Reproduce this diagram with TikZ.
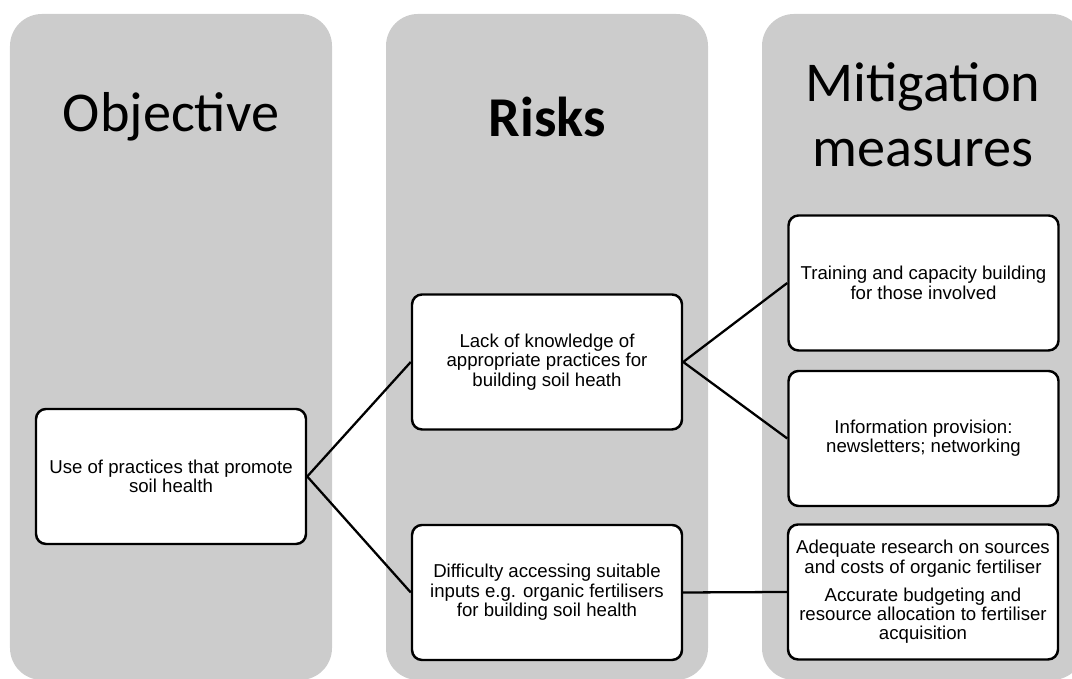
\documentclass[tikz,border=0pt]{standalone}
\usepackage{fontspec}
\setmainfont{Liberation Sans}
\newfontfamily\hdrfont{Carlito}
\usepackage{tikz}
\usetikzlibrary{positioning}
\usepackage{xcolor}
\definecolor{colgray}{RGB}{204,204,204}

\begin{document}
\begin{tikzpicture}[
  col/.style={fill=colgray, rounded corners=0.64cm},
  hdr/.style={font=\hdrfont\fontsize{32}{37}\selectfont, align=center},
  box/.style={rectangle, rounded corners=0.2cm, draw=black, line width=1.4pt,
              fill=white, minimum width=5.4cm, minimum height=2.7cm,
              align=center, font=\fontsize{10.6}{11}\selectfont},
  link/.style={line width=1.3pt}
]
\useasboundingbox (0,0) rectangle (21.44,13.58);
\clip (0,0) rectangle (21.44,13.58);

% columns
\fill[col] (0.2,-0.02)   rectangle (6.64,13.3);
\fill[col] (7.72,-0.02)  rectangle (14.16,13.3);
\fill[col] (15.24,-0.02) rectangle (21.68,13.3);

\node[hdr] (hobj) at (3.42, 11.25)  {Objective};
\node[hdr] (hrsk) at (10.94, 11.25) {\bfseries Risks};
\node[hdr] (hmit) at (18.46, 11.28) {Mitigation\\measures};

\node[box] (obj) at (3.42, 4.05)  {Use of practices that promote\\ soil health};

\node[box] (rk1) at (10.94, 6.34) {Lack of knowledge of\\ appropriate practices for\\ building soil heath};
\node[box] (rk2) at (10.94, 1.73) {Difficulty accessing suitable\\ inputs e.g. organic fertilisers\\ for building soil health};

\node[box] (mt1) at (18.47, 7.92) {Training and capacity building\\ for those involved};
\node[box] (mt2) at (18.47, 4.81) {Information provision:\\ newsletters; networking};
\node[box] (mt3) at (18.46, 1.74) {Adequate research on sources\\ and costs of organic fertiliser\\[5pt]
  Accurate budgeting and\\ resource allocation to fertiliser\\ acquisition};

\draw[link] (obj.east) -- (rk1.west);
\draw[link] (obj.east) -- (rk2.west);
\draw[link] (rk1.east) -- (mt1.west);
\draw[link] (rk1.east) -- (mt2.west);
\draw[link] (rk2.east) -- (mt3.west);
\end{tikzpicture}
\end{document}
